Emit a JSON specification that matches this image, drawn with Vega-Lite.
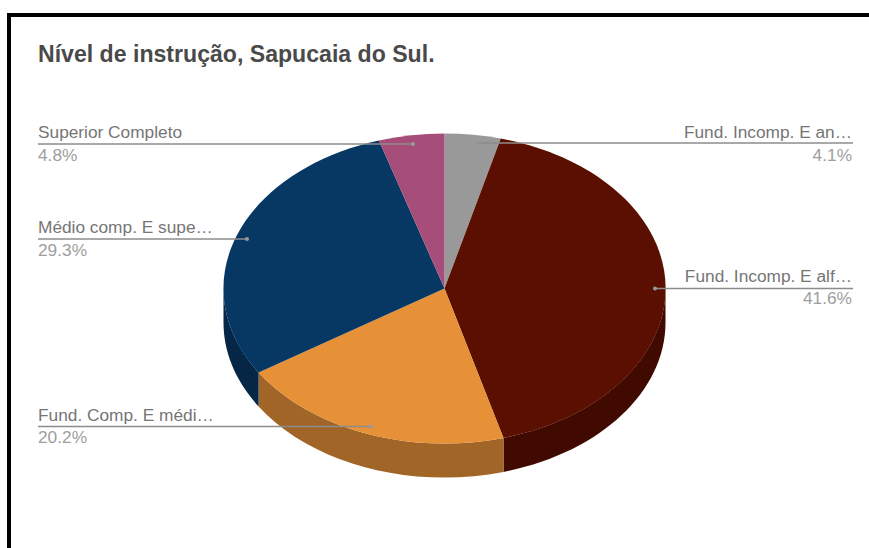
{
"$schema":"https://vega.github.io/schema/vega-lite/v6.json",
"width":871,"height":547,
"autosize":{"type":"none"},
"padding":{"left":9,"top":15,"right":0,"bottom":0},
"background":"#ffffff",
"view":{"stroke":"#000000","strokeWidth":4,"fill":"#ffffff"},
"title":{"text":"Nível de instrução, Sapucaia do Sul.","anchor":"start","frame":"group","dx":29,"dy":70,"offset":0,"baseline":"alphabetic","font":"Liberation Sans","fontSize":23.1,"fontWeight":"bold","color":"#4a4a4a"},
"datasets":{"slices":[
{"label":"Fund. Incomp. E an…","share":0.041},
{"label":"Fund. Incomp. E alf…","share":0.416},
{"label":"Fund. Comp. E médi…","share":0.202},
{"label":"Médio comp. E supe…","share":0.293},
{"label":"Superior Completo","share":0.048}
]},
"data":{"name":"slices"},
"resolve":{"scale":{"shape":"independent","color":"independent"}},
"layer":[
{"transform":[{"filter":{"field":"label","oneOf":["Fund. Incomp. E alf…","Fund. Comp. E médi…","Médio comp. E supe…"]}}],
 "mark":{"type":"point","filled":true,"opacity":1,"size":4,"strokeWidth":0},
 "encoding":{
  "shape":{"field":"label","type":"nominal","legend":null,"scale":{"domain":["Fund. Incomp. E alf…","Fund. Comp. E médi…","Médio comp. E supe…"],"range":[
   "M221 0 A221 155 0 0 1 59 149.4 L59 183.4 A221 155 0 0 0 221 34 Z",
   "M59 149.4 A221 155 0 0 1 -185.9 83.9 L-185.9 117.9 A221 155 0 0 0 59 183.4 Z",
   "M-185.9 83.9 A221 155 0 0 1 -221 0 L-221 34 A221 155 0 0 0 -185.9 117.9 Z"]}},
  "color":{"field":"label","type":"nominal","legend":null,"scale":{"domain":["Fund. Incomp. E alf…","Fund. Comp. E médi…","Médio comp. E supe…"],"range":["#400a00","#a16527","#052745"]}}
 }},
{"mark":{"type":"point","filled":true,"opacity":1,"size":4,"strokeWidth":0},
 "encoding":{
  "shape":{"field":"label","type":"nominal","legend":null,"scale":{"domain":["Fund. Incomp. E an…","Fund. Incomp. E alf…","Fund. Comp. E médi…","Médio comp. E supe…","Superior Completo"],"range":[
   "M0 0 L0 -155 A221 155 0 0 1 56.3 -149.9 Z",
   "M0 0 L56.3 -149.9 A221 155 0 0 1 59 149.4 Z",
   "M0 0 L59 149.4 A221 155 0 0 1 -185.9 83.9 Z",
   "M0 0 L-185.9 83.9 A221 155 0 0 1 -65.6 -148 Z",
   "M0 0 L-65.6 -148 A221 155 0 0 1 0 -155 Z"]}},
  "color":{"field":"label","type":"nominal","legend":null,"scale":{"domain":["Fund. Incomp. E an…","Fund. Incomp. E alf…","Fund. Comp. E médi…","Médio comp. E supe…","Superior Completo"],"range":["#999999","#5b0f00","#e69138","#073763","#a64d79"]}}
 }},
{"mark":{"type":"point","filled":false,"opacity":1,"size":4,"strokeWidth":1.5,"color":"#8c8c8c"},
 "encoding":{
  "shape":{"field":"label","type":"nominal","legend":null,"scale":{"domain":["Fund. Incomp. E an…","Fund. Incomp. E alf…","Fund. Comp. E médi…","Médio comp. E supe…","Superior Completo"],"range":[
   "M30.5 -145.5 L408.5 -145.5",
   "M210.5 0 L408.5 0",
   "M-406.5 138 L-73.5 138",
   "M-406.5 -49.5 L-197.5 -49.5",
   "M-406.5 -144.5 L-31.5 -144.5"]}}
 }},
{"mark":{"type":"point","filled":true,"opacity":1,"size":4,"strokeWidth":0,"color":"#9a9a9a"},
 "encoding":{
  "shape":{"field":"label","type":"nominal","legend":null,"scale":{"domain":["Fund. Incomp. E an…","Fund. Incomp. E alf…","Fund. Comp. E médi…","Médio comp. E supe…","Superior Completo"],"range":[
   "M28.5 -145.5 A2 2 0 1 0 32.5 -145.5 A2 2 0 1 0 28.5 -145.5 Z",
   "M208.5 0 A2 2 0 1 0 212.5 0 A2 2 0 1 0 208.5 0 Z",
   "M-75.5 138 A2 2 0 1 0 -71.5 138 A2 2 0 1 0 -75.5 138 Z",
   "M-199.5 -49.5 A2 2 0 1 0 -195.5 -49.5 A2 2 0 1 0 -199.5 -49.5 Z",
   "M-33.5 -144.5 A2 2 0 1 0 -29.5 -144.5 A2 2 0 1 0 -33.5 -144.5 Z"]}}
 }},
{"transform":[{"filter":"datum.label==='Superior Completo'"}],"mark":{"type":"text","align":"left","dx":-406.5,"dy":-150.5,"baseline":"alphabetic","font":"Liberation Sans","fontSize":17.3,"color":"#757575"},"encoding":{"text":{"field":"label"}}},
{"transform":[{"filter":"datum.label==='Superior Completo'"}],"mark":{"type":"text","align":"left","dx":-406.5,"dy":-127.5,"baseline":"alphabetic","font":"Liberation Sans","fontSize":17.3,"color":"#9e9e9e"},"encoding":{"text":{"field":"share","format":".1%"}}},
{"transform":[{"filter":"datum.label==='Médio comp. E supe…'"}],"mark":{"type":"text","align":"left","dx":-406.5,"dy":-55.5,"baseline":"alphabetic","font":"Liberation Sans","fontSize":17.3,"color":"#757575"},"encoding":{"text":{"field":"label"}}},
{"transform":[{"filter":"datum.label==='Médio comp. E supe…'"}],"mark":{"type":"text","align":"left","dx":-406.5,"dy":-32.5,"baseline":"alphabetic","font":"Liberation Sans","fontSize":17.3,"color":"#9e9e9e"},"encoding":{"text":{"field":"share","format":".1%"}}},
{"transform":[{"filter":"datum.label==='Fund. Comp. E médi…'"}],"mark":{"type":"text","align":"left","dx":-406.5,"dy":132.5,"baseline":"alphabetic","font":"Liberation Sans","fontSize":17.3,"color":"#757575"},"encoding":{"text":{"field":"label"}}},
{"transform":[{"filter":"datum.label==='Fund. Comp. E médi…'"}],"mark":{"type":"text","align":"left","dx":-406.5,"dy":154,"baseline":"alphabetic","font":"Liberation Sans","fontSize":17.3,"color":"#9e9e9e"},"encoding":{"text":{"field":"share","format":".1%"}}},
{"transform":[{"filter":"datum.label==='Fund. Incomp. E an…'"}],"mark":{"type":"text","align":"right","dx":407.5,"dy":-150.5,"baseline":"alphabetic","font":"Liberation Sans","fontSize":17.3,"color":"#757575"},"encoding":{"text":{"field":"label"}}},
{"transform":[{"filter":"datum.label==='Fund. Incomp. E an…'"}],"mark":{"type":"text","align":"right","dx":407.5,"dy":-127.5,"baseline":"alphabetic","font":"Liberation Sans","fontSize":17.3,"color":"#9e9e9e"},"encoding":{"text":{"field":"share","format":".1%"}}},
{"transform":[{"filter":"datum.label==='Fund. Incomp. E alf…'"}],"mark":{"type":"text","align":"right","dx":407.5,"dy":-6.5,"baseline":"alphabetic","font":"Liberation Sans","fontSize":17.3,"color":"#757575"},"encoding":{"text":{"field":"label"}}},
{"transform":[{"filter":"datum.label==='Fund. Incomp. E alf…'"}],"mark":{"type":"text","align":"right","dx":407.5,"dy":15,"baseline":"alphabetic","font":"Liberation Sans","fontSize":17.3,"color":"#9e9e9e"},"encoding":{"text":{"field":"share","format":".1%"}}}
]
}
